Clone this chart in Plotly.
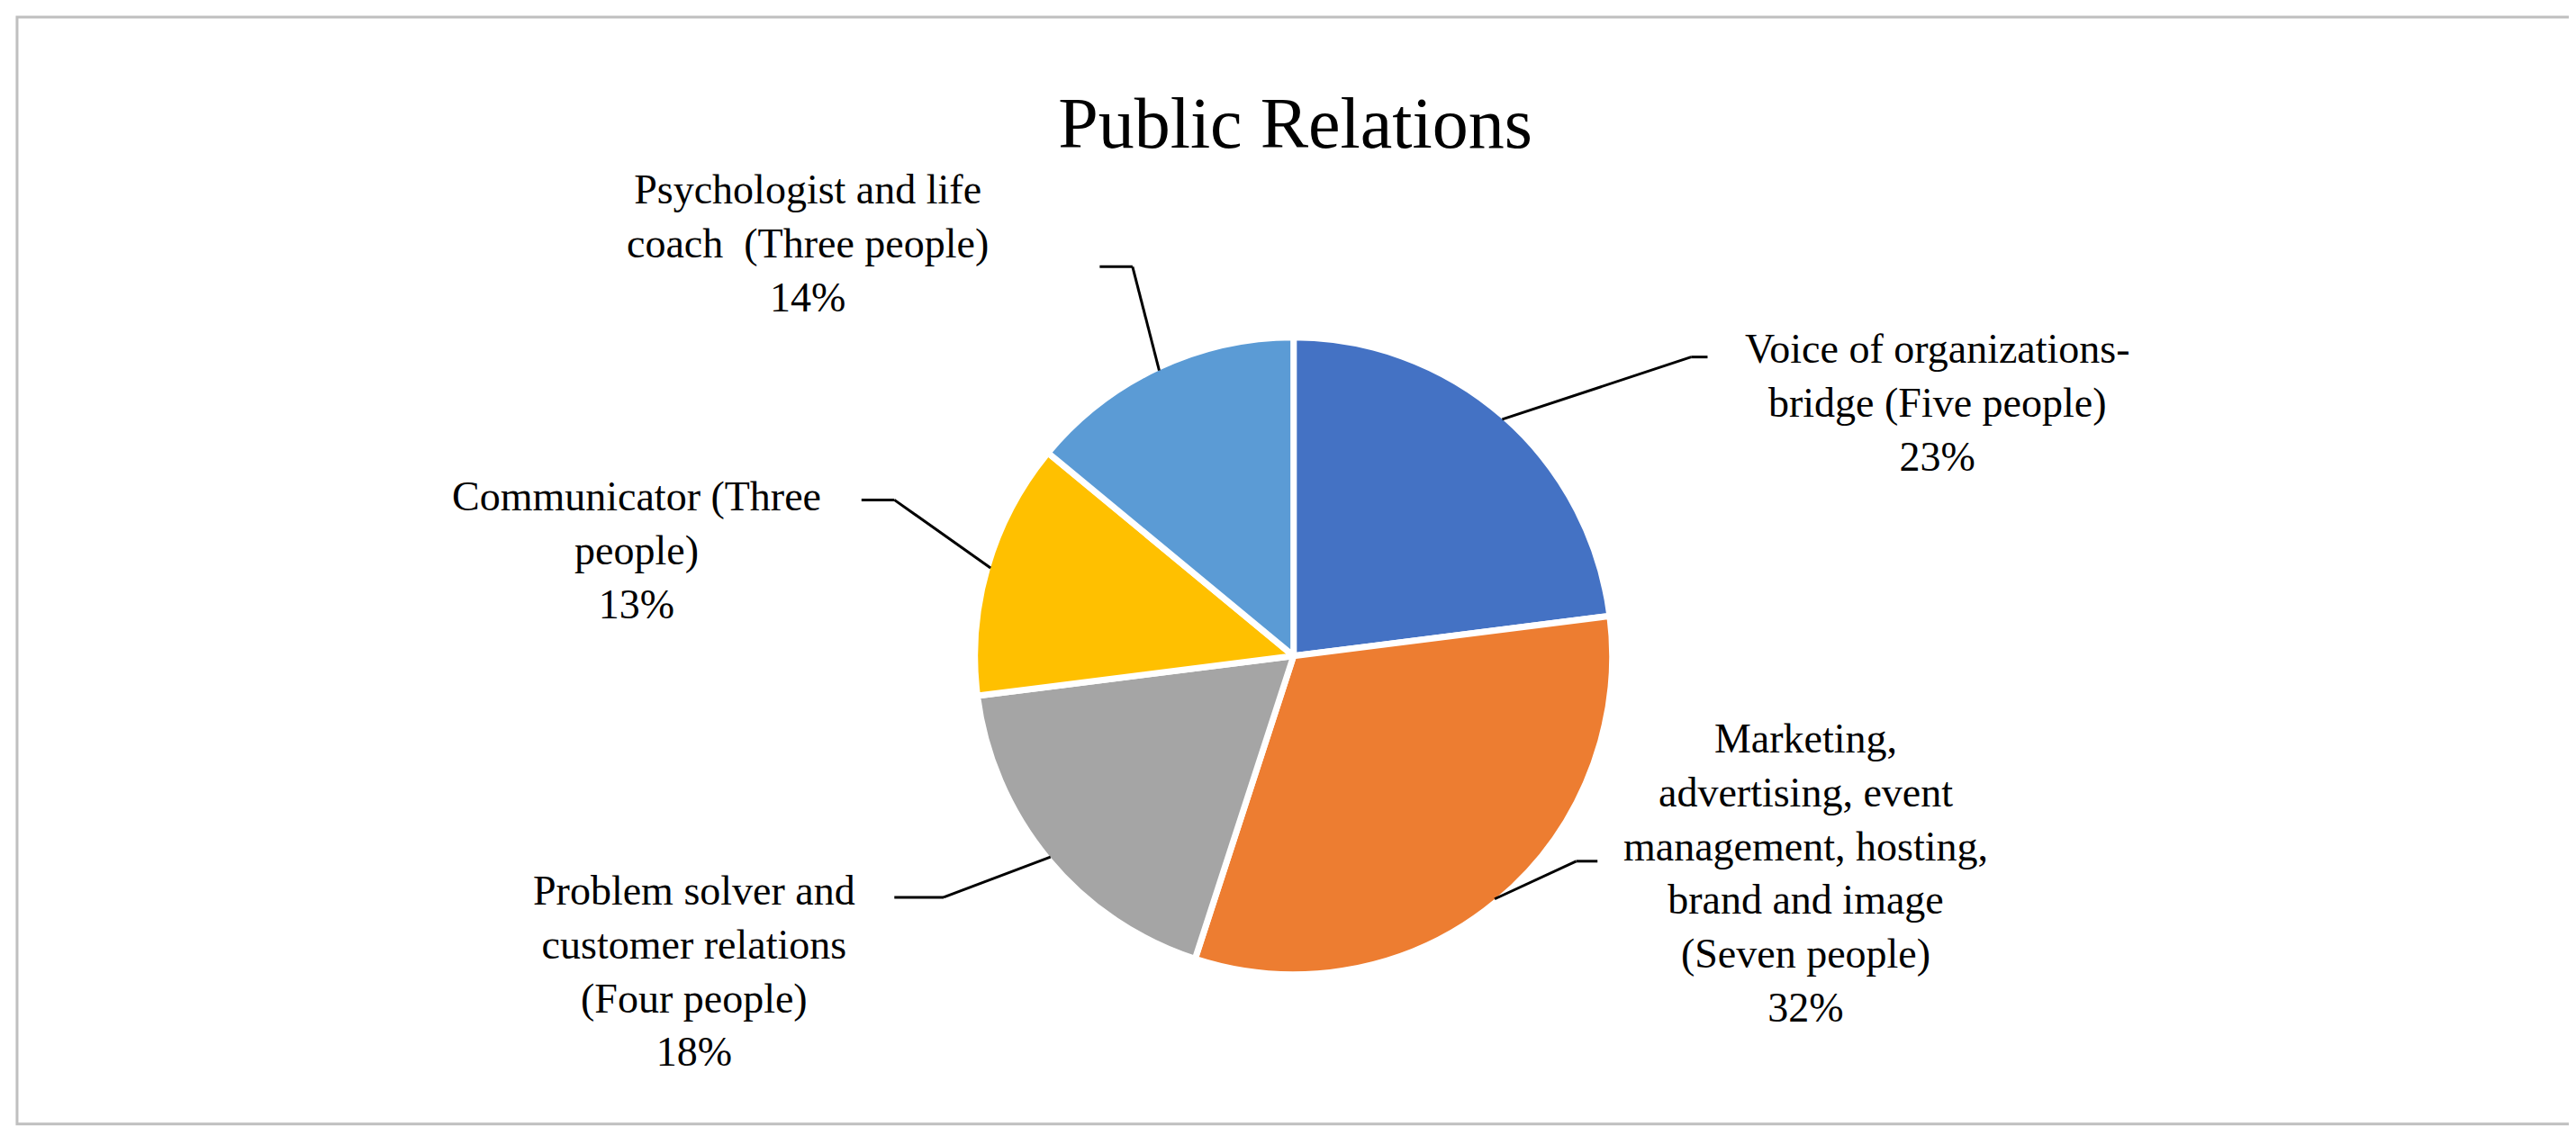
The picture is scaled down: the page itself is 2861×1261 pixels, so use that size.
import numpy as np
import plotly.graph_objects as go

W, H = 2861, 1261
S = W / 1568.0  # reference drawn at 1568 wide

labels = ["Voice of organizations-<br>bridge (Five people)",
          "Marketing,<br>advertising, event<br>management, hosting,<br>brand and image<br>(Seven people)",
          "Problem solver and<br>customer relations<br>(Four people)",
          "Communicator (Three<br>people)",
          "Psychologist and life<br>coach  (Three people)"]
values = [23, 32, 18, 13, 14]
colors = ["#4472C4", "#ED7D31", "#A5A5A5", "#FFC000", "#5B9BD5"]

# label block centres / top line (ref px) and leader elbows
label_pos = [(1175, 193), (1095, 430), (418, 523), (383, 283), (487, 96)]
elbows = [(1025, 213, 1035), (955, 520, 968), (570, 542, 540), (540, 300, 520), (685, 158, 665)]

def px(x, y):
    return x * S / W, 1 - y * S / H

cx, cy, r = 783, 395, 194

fig = go.Figure(go.Pie(
    values=values, labels=labels, sort=False, direction="clockwise", rotation=0,
    marker=dict(colors=colors, line=dict(color="white", width=7)),
    textinfo="none", hoverinfo="label+percent", showlegend=False,
    domain=dict(x=[(cx - r) * S / W, (cx + r) * S / W],
                y=[1 - (cy + r) * S / H, 1 - (cy - r) * S / H]),
))

font = dict(family="Liberation Serif, DejaVu Serif, serif", size=46, color="#000000")
shapes = [dict(type="rect", xref="paper", yref="paper", x0=px(6, 0)[0], x1=px(1562, 0)[0],
               y0=px(0, 680)[1], y1=px(0, 6)[1], line=dict(color="#BFBFBF", width=3))]
annotations = []
cum = 0
total = sum(values)
for lab, v, (lx, ly), (ex, ey, hx) in zip(labels, values, label_pos, elbows):
    ang = np.deg2rad(90 - 360 * (cum + v / 2) / total)
    cum += v
    sx, sy = cx + 0.99 * r * np.cos(ang), cy - 0.99 * r * np.sin(ang)
    for (a, b), (c, d) in [((sx, sy), (ex, ey)), ((ex, ey), (hx, ey))]:
        x0, y0 = px(a, b)
        x1, y1 = px(c, d)
        shapes.append(dict(type="line", xref="paper", yref="paper", x0=x0, y0=y0, x1=x1, y1=y1,
                           line=dict(color="black", width=3)))
    ax, ay = px(lx, ly)
    annotations.append(dict(text=lab + "<br>%d%%" % v, x=ax, y=ay, xref="paper", yref="paper",
                            xanchor="center", yanchor="top", showarrow=False, align="center",
                            font=font))

fig.update_layout(
    width=W, height=H, paper_bgcolor="white", plot_bgcolor="white",
    margin=dict(l=0, r=0, t=0, b=0),
    title=dict(text="Public Relations", x=0.5, xanchor="center", y=1 - 70 * S / H, yanchor="middle",
               font=dict(family="Liberation Serif, DejaVu Serif, serif", size=80, color="black")),
    shapes=shapes, annotations=annotations,
)
fig.write_html("out.html")
